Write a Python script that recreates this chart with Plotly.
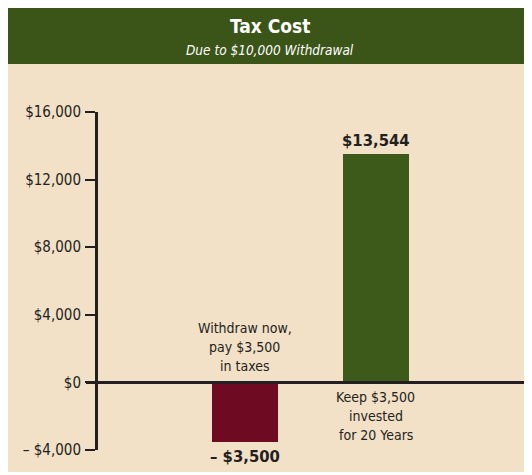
import plotly.graph_objects as go

# ---- data ----
categories = ["Withdraw now", "Keep invested"]
values = [-3500, 13544]
value_labels = ["– $3,500", "$13,544"]
cat_label_lines = [
    ["Withdraw now,", "pay $3,500", "in taxes"],
    ["Keep $3,500", "invested", "for 20 Years"],
]
tick_vals = [-4000, 0, 4000, 8000, 12000, 16000]
tick_text = ["– $4,000", "$0", "$4,000", "$8,000", "$12,000", "$16,000"]
title_text = "Tax Cost"
subtitle_text = "Due to $10,000 Withdrawal"

# ---- style ----
W, H = 540, 464
ML, MR, MT, MB = 90, 16, 104, 22
PW, PH = W - ML - MR, H - MT - MB
BEIGE = "#F2E0C7"
HEADER = "#3B5518"
GREEN = "#3D5A1A"
RED = "#6E0B22"
INK = "#231F20"
NARROW = "Liberation Sans Narrow, DejaVu Sans Condensed, Arial Narrow, sans-serif"
bar_colors = [RED, GREEN]
xpos = list(range(len(categories)))


def px_x(p):
    return (p - ML) / PW


def px_y(p):
    return (H - MB - p) / PH


fig = go.Figure()
fig.add_trace(go.Bar(
    x=xpos, y=values, width=0.504,
    marker=dict(color=bar_colors, line=dict(width=0)),
    hoverinfo="skip",
))

shapes = [
    dict(type="rect", xref="paper", yref="paper", x0=px_x(0), x1=px_x(W),
         y0=px_y(56), y1=px_y(0), fillcolor=HEADER, line=dict(width=0), layer="below"),
    dict(type="line", xref="paper", yref="y", x0=px_x(78), x1=px_x(W), y0=0, y1=0,
         line=dict(color=INK, width=3), layer="above"),
]

annotations = [
    dict(text="<b>" + title_text + "</b>", xref="paper", yref="paper",
         x=px_x(262), y=px_y(18), showarrow=False, xanchor="center", yanchor="middle",
         font=dict(family=NARROW, size=19, color="white")),
    dict(text="<i>" + subtitle_text + "</i>", xref="paper", yref="paper",
         x=px_x(262), y=px_y(42), showarrow=False, xanchor="center", yanchor="middle",
         font=dict(family=NARROW, size=13.5, color="white")),
]

LINE_SP = 19
for i, (v, lab, lines) in enumerate(zip(values, value_labels, cat_label_lines)):
    annotations.append(dict(
        text="<b>" + lab + "</b>", x=xpos[i], y=v, xref="x", yref="y",
        showarrow=False, xanchor="center", yanchor="middle",
        yshift=13 if v > 0 else -15,
        font=dict(family=NARROW, size=16.5, color=INK)))
    n = len(lines)
    for j, line in enumerate(lines):
        if v < 0:
            shift = 16 + (n - 1 - j) * LINE_SP
        else:
            shift = -15 - j * LINE_SP
        annotations.append(dict(
            text=line, x=xpos[i], y=0, xref="x", yref="y",
            showarrow=False, xanchor="center", yanchor="middle", yshift=shift,
            font=dict(family=NARROW, size=14, color=INK)))

fig.update_layout(
    width=W, height=H, autosize=False,
    margin=dict(l=ML, r=MR, t=MT, b=MB, pad=0),
    paper_bgcolor=BEIGE, plot_bgcolor="rgba(0,0,0,0)",
    showlegend=False, bargap=0,
    shapes=shapes, annotations=annotations,
    xaxis=dict(range=[-1.122, 2.191], visible=False, fixedrange=True),
    yaxis=dict(range=[-4000, 16000], tickvals=tick_vals, ticktext=tick_text,
               showgrid=False, zeroline=False, showline=True, linewidth=3,
               linecolor=INK, ticks="outside", ticklen=10, tickwidth=1.5,
               tickcolor=INK, ticklabelstandoff=1,
               tickfont=dict(family=NARROW, size=15, color=INK), fixedrange=True),
)

fig.write_html(
    "out.html",
    config={"displayModeBar": False},
    post_script="document.documentElement.style.overflow='hidden';"
                "document.body.style.overflow='hidden';",
)
